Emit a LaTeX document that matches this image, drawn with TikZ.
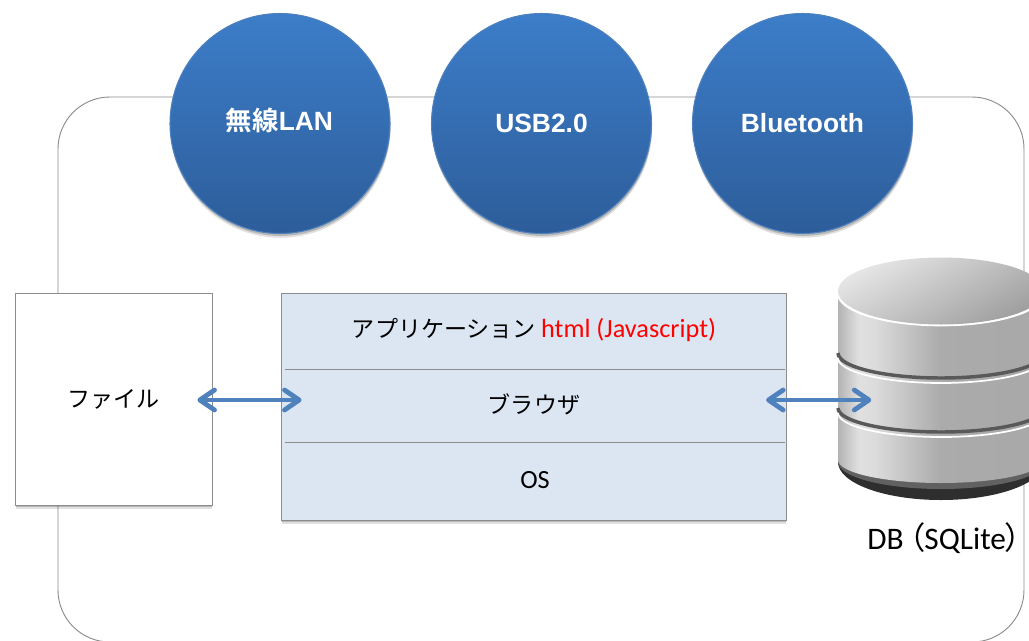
\documentclass[tikz,border=0pt]{standalone}
\usepackage{fontspec}
\usepackage{xcolor}
\usepackage{tikz}
\usetikzlibrary{arrows.meta,shadows}
\setmainfont{Carlito}
\newfontfamily\cjk{Noto Sans CJK JP}
\newfontfamily\cjkpalt[RawFeature=+palt]{Noto Sans CJK JP}
\newfontfamily\cjkbold{Noto Sans CJK JP Bold}
\newfontfamily\arialbold{Liberation Sans Bold}
\newcommand{\jptext}{\cjk\fontsize{17.3}{20}\selectfont}
\newcommand{\lattext}{\normalfont\fontsize{19.7}{24}\selectfont}
\definecolor{framegray}{HTML}{8C8C8C}
\definecolor{paleblue}{HTML}{DCE6F2}
\definecolor{arrowblue}{HTML}{4F81BD}
\definecolor{circletop}{HTML}{3C7DC9}
\definecolor{circlebottom}{HTML}{2D5D9A}
\pgfdeclarehorizontalshading{db-body}{100bp}{color(0bp)=(black!30); color(25bp)=(black!30); color(30bp)=(black!12); color(34bp)=(black!14); color(50bp)=(black!33); color(100bp)=(black!35)}
\tikzset{
    soft-shadow/.style = {drop shadow={shadow xshift=0.4pt, shadow yshift=-3.2pt, opacity=0.12, fill=black}, drop shadow={shadow xshift=0.4pt, shadow yshift=-1.8pt, opacity=0.18, fill=black}},
    bus-circle/.style = {circle, minimum size=165pt, inner sep=0pt, draw=arrowblue, thick, top color=circletop, bottom color=circlebottom, soft-shadow},
    bus-label/.style = {text=white, font=\arialbold\fontsize{19.8}{24}\selectfont},
    file-box/.style = {draw=framegray, fill=white, rectangle, minimum width=147.5pt, minimum height=159pt, inner sep=0pt, soft-shadow},
    app-box/.style = {draw=framegray, fill=paleblue, rectangle, minimum width=378.5pt, minimum height=170pt, inner sep=0pt, soft-shadow},
    layer-rule/.style = {draw=framegray, line width=0.7pt},
    both-arrow/.style = {draw=arrowblue, line width=3.6pt, {Straight Barb[length=11pt,width=15pt,round]}-{Straight Barb[length=11pt,width=15pt,round]}},
    db-groove/.style = {draw=black!65, line width=2.6pt},
    db-rim/.style = {draw=white, line width=1.3pt},
}

\begin{document}
\begin{tikzpicture}[x=0.75pt, y=-0.75pt]
\useasboundingbox (0,0) rectangle (1029,640);
\clip (0,0) rectangle (1029,640);
\draw[framegray, fill=white, line width=0.7pt, rounded corners=39pt] (58,97) rectangle (1024,642);

% top row
\node [bus-circle] (wlan) at (280,123.5) {};
\node [bus-circle] (usb) at (541.5,123.5) {};
\node [bus-circle] (bluetooth) at (802.5,123.5) {};
\node [bus-label] (wlan-label) at (279.5,120) {{\cjkbold 無線}LAN};
\node [bus-label] (usb-label) at (usb.center) {USB2.0};
\node [bus-label] (bluetooth-label) at (bluetooth.center) {Bluetooth};

% file and stack
\node [file-box] (file) at (113.5,399) {\jptext ファイル};
\node [app-box] (stack) at (533.5,406.5) {};
\node (app) at (534,330) {\jptext アプリケーション {\lattext\color{red} html (Javascript)}};
\node (browser) at (534,404) {\jptext ブラウザ};
\node (os) at (535,480) {\lattext OS};
\draw [layer-rule] (285,369) -- (785,369);
\draw [layer-rule] (285,442) -- (785,442);

% database
\fill [black!82] (838,440) -- (1044,440) -- (1044,462) arc [start angle=0, end angle=180, x radius=103, y radius=38] -- cycle;
\fill [black!62] (838,440) -- (1044,440) -- (1044,462) arc [start angle=0, end angle=180, x radius=103, y radius=27] -- cycle;
\shade [shading=db-body] (838,291) -- (838,460) arc [start angle=180, end angle=0, x radius=103, y radius=23] -- (1044,291) -- cycle;
\draw [db-groove] (838,353) arc [start angle=180, end angle=0, x radius=103, y radius=25];
\draw [db-rim] (838,358) arc [start angle=180, end angle=0, x radius=103, y radius=25];
\draw [db-groove] (838,408) arc [start angle=180, end angle=0, x radius=103, y radius=24];
\draw [db-rim] (838,413) arc [start angle=180, end angle=0, x radius=103, y radius=24];
\draw [db-rim, line width=2pt] (838,293) arc [start angle=180, end angle=0, x radius=103, y radius=32];
\shade [left color=black!10, right color=black!38, shading angle=30] (941,291) ellipse [x radius=103, y radius=33.5];
\coordinate (db-edge) at (838,400);
\node [anchor=west, inner sep=0pt] (db-label) at (867,538) {\normalfont\fontsize{23.5}{28}\selectfont DB{\cjkpalt\,（}SQLite{\cjkpalt ）}};

% arrows
\draw [both-arrow, shorten <=-11pt, shorten >=-15.5pt] (file.east |- 0,400) -- (stack.west |- 0,400);
\draw [both-arrow, shorten <=-15pt, shorten >=-25pt] (stack.east |- 0,400) -- (db-edge);
\end{tikzpicture}
\end{document}
